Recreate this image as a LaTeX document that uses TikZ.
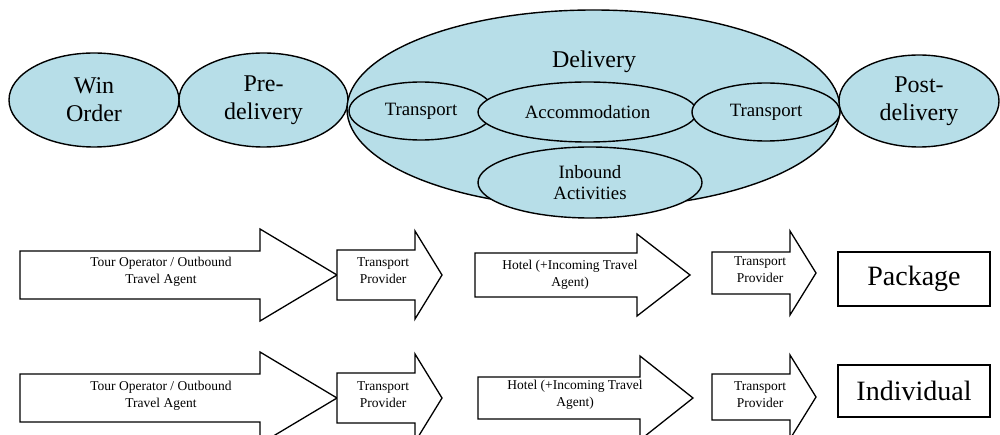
\documentclass[tikz,border=0pt]{standalone}
\usepackage{fontspec}
\setmainfont{Liberation Serif}
\usetikzlibrary{shapes.geometric}
\definecolor{phasefill}{HTML}{B7DEE8}

% block arrow: #1 tail x, #2 head base x, #3 tip x, #4 axis y, #5 half body, #6 half head
\newcommand{\blockarrow}[6]{%
  \draw[flowarrow] (#1,#4-#5) -- (#2,#4-#5) -- (#2,#4-#6) -- (#3,#4)
    -- (#2,#4+#6) -- (#2,#4+#5) -- (#1,#4+#5) -- cycle;}

\begin{document}
\begin{tikzpicture}[x=1pt,y=-1pt,
  phase/.style={ellipse, draw=black, line width=1.4pt, fill=phasefill,
    inner sep=0pt, align=center, font=\fontsize{24}{28}\selectfont},
  subphase/.style={ellipse, draw=black, line width=1.4pt, fill=phasefill,
    inner sep=0pt, align=center, font=\fontsize{18.8}{21}\selectfont},
  flowarrow/.style={draw=black, line width=1.3pt, fill=white, line join=miter},
  arrowtext/.style={align=center, inner sep=0pt,
    font=\fontsize{13.5}{17}\selectfont},
  kindbox/.style={draw=black, line width=2.2pt, fill=white, minimum width=152pt,
    inner sep=0pt, font=\fontsize{28}{32}\selectfont}
]
\useasboundingbox (0,0) rectangle (1000,435);
\clip (0,0) rectangle (1000,435);

% ---- phases of the process ----
\node[phase, minimum width=170pt, minimum height=94pt] (win) at (94,100) {Win\\Order};
\node[phase, minimum width=169pt, minimum height=94pt] (pre) at (263.5,100) {Pre-\\delivery};
\node[phase, minimum width=493pt, minimum height=198pt] (del) at (593.5,109) {};
\node[phase, minimum width=160pt, minimum height=92pt] (post) at (919,101) {Post-\\delivery};
\node[font=\fontsize{24}{28}\selectfont, anchor=base, inner sep=0pt] (deltitle) at (594,68) {Delivery};

% ---- parts of the delivery ----
\node[subphase, minimum width=144pt, minimum height=58pt] (trin) at (421,111) {Transport};
\node[subphase, minimum width=219pt, minimum height=60pt] (acc) at (587.5,112) {Accommodation};
\node[subphase, minimum width=148pt, minimum height=58pt] (trout) at (766,112) {Transport};
\node[subphase, minimum width=224pt, minimum height=71pt] (inb) at (590,182.5) {Inbound\\Activities};

% ---- package chain ----
\blockarrow{20}{260}{337}{275}{24}{46}
\blockarrow{337}{415}{442}{275}{25}{44}
\blockarrow{475}{637}{690}{275}{22}{41}
\blockarrow{712}{790}{816}{273}{21}{42}
\node[arrowtext] (pa) at (161,272) {Tour Operator / Outbound\\Travel Agent};
\node[arrowtext] (pb) at (383,271) {Transport\\Provider};
\node[arrowtext] (pc) at (570,275) {Hotel (+Incoming Travel\\Agent)};
\node[arrowtext] (pd) at (760,270) {Transport\\Provider};
\node[kindbox, minimum height=54pt] (package) at (914,279) {Package};

% ---- individual chain ----
\blockarrow{20}{260}{337}{398}{24}{46}
\blockarrow{337}{415}{442}{398}{25}{44}
\blockarrow{478}{640}{693}{398}{21}{42}
\blockarrow{712}{790}{816}{397}{23}{42}
\node[arrowtext] (ia) at (161,396) {Tour Operator / Outbound\\Travel Agent};
\node[arrowtext] (ib) at (383,395) {Transport\\Provider};
\node[arrowtext] (ic) at (575,395) {Hotel (+Incoming Travel\\Agent)};
\node[arrowtext] (id) at (760,395) {Transport\\Provider};
\node[kindbox, minimum height=52pt] (individual) at (914,391) {Individual};
\end{tikzpicture}
\end{document}
